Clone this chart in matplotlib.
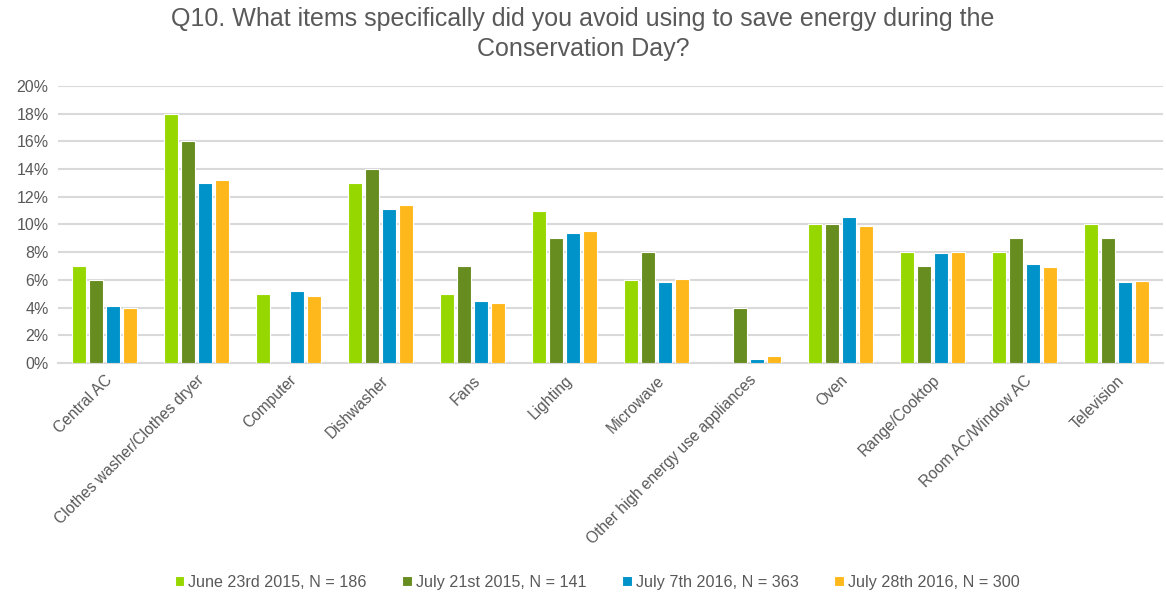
import matplotlib.pyplot as plt
import numpy as np

# data (percent)
categories = ['Central AC', 'Clothes washer/Clothes dryer', 'Computer', 'Dishwasher',
              'Fans', 'Lighting', 'Microwave', 'Other high energy use appliances',
              'Oven', 'Range/Cooktop', 'Room AC/Window AC', 'Television']
june_2015 = [7, 18, 5, 13, 5, 11, 6, 0, 10, 8, 8, 10]
july_2015 = [6, 16, 0, 14, 7, 9, 8, 4, 10, 7, 9, 9]
july7_2016 = [4.14, 13.02, 5.2, 11.12, 4.48, 9.36, 5.85, 0.27, 10.56, 7.94, 7.13, 5.83]
july28_2016 = [4.0, 13.19, 4.84, 11.43, 4.31, 9.55, 6.09, 0.5, 9.91, 8.0, 6.96, 5.9]
series_labels = ['June 23rd 2015, N = 186', 'July 21st 2015, N = 141',
                 'July 7th 2016, N = 363', 'July 28th 2016, N = 300']
colors = ['#97D700', '#678C1F', '#0093C9', '#FFB81C']

plt.rcParams['font.family'] = ['Liberation Sans', 'DejaVu Sans']
text_col = '#595959'

fig = plt.figure(figsize=(11.66, 5.96), dpi=100)
ax = fig.add_axes([0.05, 0.391, 0.947, 0.465])

x = np.arange(len(categories))
step = 0.185
width = 0.15
for i, (vals, lab, c) in enumerate(zip([june_2015, july_2015, july7_2016, july28_2016],
                                      series_labels, colors)):
    ax.bar(x + (i - 1.5) * step, vals, width, color=c, label=lab,
           edgecolor='white', linewidth=0.8, zorder=3)

ax.set_ylim(0, 20)
ax.set_xlim(-0.5, len(categories) - 0.5)
ax.set_yticks(np.arange(0, 21, 2))
ax.set_yticklabels([f'{v}%' for v in range(0, 21, 2)], color=text_col, fontsize=11.5)
ax.yaxis.grid(True, color='#D9D9D9', linewidth=1.5, zorder=0)
ax.set_xticks(x)
ax.set_xticklabels(categories, rotation=45, ha='right', rotation_mode='anchor',
                   color=text_col, fontsize=11.2)
ax.tick_params(length=0, pad=7)
for s in ['top', 'right', 'left']:
    ax.spines[s].set_visible(False)
ax.spines['bottom'].set_color('#D9D9D9')
ax.spines['bottom'].set_linewidth(1.5)

fig.suptitle('Q10. What items specifically did you avoid using to save energy during the\nConservation Day?',
             color=text_col, fontsize=18, y=0.988, linespacing=1.3)

fig.legend(loc='lower center', ncol=4, frameon=False, fontsize=11.6,
           bbox_to_anchor=(0.512, -0.014), handlelength=0.6, handleheight=0.6,
           handletextpad=0.25, columnspacing=2.2, labelcolor=text_col)

fig.savefig('out.png', dpi=100)
